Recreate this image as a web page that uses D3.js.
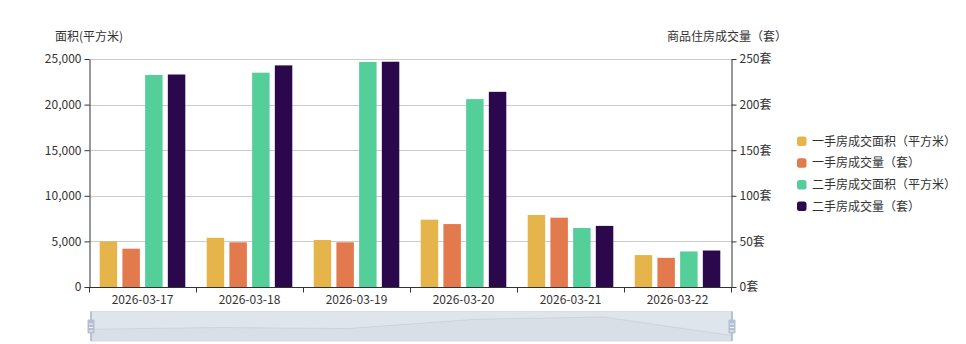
<!DOCTYPE html>
<html>
<head>
<meta charset="utf-8">
<script src="https://cdn.jsdelivr.net/npm/d3@7/dist/d3.min.js"></script>
<style>
  html, body { margin: 0; padding: 0; background: #fff; }
  svg { display: block; font-family: "Noto Sans CJK SC", "Microsoft YaHei", sans-serif; }
</style>
</head>
<body>
<svg id="chart" width="966" height="344"></svg>
<script>
// Daily housing transactions
const dates = ['2026-03-17', '2026-03-18', '2026-03-19', '2026-03-20', '2026-03-21', '2026-03-22'];
const newArea = [5000, 5400, 5150, 7380, 7900, 3500];        // 一手房成交面积 (m²)
const newCount = [42, 49, 49, 69, 76, 32];                   // 一手房成交量 (套)
const secondArea = [23250, 23500, 24670, 20600, 6470, 3900]; // 二手房成交面积 (m²)
const secondCount = [233, 243, 247, 214, 67, 40];            // 二手房成交量 (套)

const seriesNames = ['一手房成交面积（平方米）', '一手房成交量（套）', '二手房成交面积（平方米）', '二手房成交量（套）'];
const seriesColors = ['#e5b44a', '#e27a4d', '#55cf9a', '#2b074c'];
const leftTicks = [0, 5000, 10000, 15000, 20000, 25000];
const rightTicks = [0, 50, 100, 150, 200, 250];

const series = [
  { name: seriesNames[0], values: newArea, axis: 'left' },
  { name: seriesNames[1], values: newCount, axis: 'right' },
  { name: seriesNames[2], values: secondArea, axis: 'left' },
  { name: seriesNames[3], values: secondCount, axis: 'right' }
];

const svg = d3.select('#chart');
const plot = { left: 89, right: 731, top: 59, bottom: 287 };
const textColor = '#333';

const x = d3.scaleBand().domain(dates).range([plot.left, plot.right]).padding(0);
const bw = x.bandwidth();
const xs = d3.scaleBand().domain(d3.range(series.length))
  .range([bw * 0.1, bw * 0.9]).paddingInner(0.3 / 1.3).paddingOuter(0);
const yL = d3.scaleLinear().domain([0, 25000]).range([plot.bottom, plot.top]);
const yR = d3.scaleLinear().domain([0, 250]).range([plot.bottom, plot.top]);

// grid lines
svg.append('g').selectAll('line').data(leftTicks.slice(1)).join('line')
  .attr('x1', plot.left).attr('x2', plot.right)
  .attr('y1', d => Math.round(yL(d)) + 0.5).attr('y2', d => Math.round(yL(d)) + 0.5)
  .attr('stroke', '#ccc').attr('stroke-width', 1);

// bars
series.forEach((s, si) => {
  const y = s.axis === 'left' ? yL : yR;
  svg.append('g').selectAll('rect').data(s.values).join('rect')
    .attr('x', (d, i) => x(dates[i]) + xs(si))
    .attr('width', xs.bandwidth())
    .attr('y', d => y(d))
    .attr('height', d => plot.bottom - y(d))
    .attr('fill', seriesColors[si]);
});

function styleAxis(g) {
  g.select('.domain').attr('stroke', textColor);
  g.selectAll('.tick line').attr('stroke', textColor);
  g.selectAll('.tick text').attr('fill', textColor).attr('font-size', 12)
    .attr('font-family', '"Noto Sans CJK SC", "Microsoft YaHei", sans-serif');
}

// left axis
svg.append('g').attr('transform', `translate(${plot.left + 0.5},0)`)
  .call(d3.axisLeft(yL).tickValues(leftTicks).tickSize(5).tickSizeOuter(0).tickPadding(3)
    .tickFormat(d3.format(',')))
  .call(styleAxis);

// right axis
svg.append('g').attr('transform', `translate(${plot.right + 0.5},0)`)
  .call(d3.axisRight(yR).tickValues(rightTicks).tickSize(5).tickSizeOuter(0).tickPadding(3)
    .tickFormat(d => d + '套'))
  .call(styleAxis);

// bottom axis with ticks on band boundaries
const xAxisG = svg.append('g').attr('transform', `translate(0,${plot.bottom + 0.5})`);
xAxisG.append('line').attr('x1', plot.left).attr('x2', plot.right + 1)
  .attr('stroke', textColor);
xAxisG.selectAll('line.tk').data(d3.range(dates.length + 1)).join('line').attr('class', 'tk')
  .attr('x1', i => Math.round(plot.left + i * bw) + 0.5)
  .attr('x2', i => Math.round(plot.left + i * bw) + 0.5)
  .attr('y1', 0).attr('y2', 5).attr('stroke', textColor);
xAxisG.selectAll('text').data(dates).join('text')
  .attr('x', d => x(d) + bw / 2).attr('y', 16)
  .attr('text-anchor', 'middle').attr('font-size', 12).attr('fill', textColor)
  .text(d => d);

// axis names
svg.append('text').attr('x', plot.left).attr('y', 41).attr('text-anchor', 'middle')
  .attr('font-size', 12).attr('fill', textColor).text('面积(平方米)');
svg.append('text').attr('x', plot.right - 4).attr('y', 41).attr('text-anchor', 'middle')
  .attr('font-size', 12).attr('fill', textColor).text('商品住房成交量（套）');

// legend
const legend = svg.append('g').attr('transform', 'translate(797,141)');
const li = legend.selectAll('g').data(seriesNames).join('g')
  .attr('transform', (d, i) => `translate(0,${i * 21.7})`);
li.append('rect').attr('x', 0).attr('y', -4.5).attr('width', 9.5).attr('height', 9.5)
  .attr('rx', 2.5).attr('fill', (d, i) => seriesColors[i]);
li.append('text').attr('x', 15).attr('y', 4.5).attr('font-size', 12).attr('fill', textColor)
  .text(d => d);

// range slider with data shadow of the first series
const sl = { left: 91, right: 732, top: 311.5, bottom: 341 };
const slider = svg.append('g');
slider.append('rect').attr('x', sl.left).attr('y', sl.top)
  .attr('width', sl.right - sl.left).attr('height', sl.bottom - sl.top)
  .attr('fill', 'rgba(167,183,204,0.36)').attr('stroke', '#ddd');

const ext = d3.extent(newArea);
const off = (ext[1] - ext[0]) * 0.3;
const shadowY = d3.scaleLinear().domain([ext[0] - off, ext[1] + off]).range([sl.bottom, sl.top]);
const shadowX = d3.scaleLinear().domain([0, newArea.length - 1]).range([sl.left, sl.right]);
const area = d3.area().x((d, i) => shadowX(i)).y0(sl.bottom).y1(d => shadowY(d));
const line = d3.line().x((d, i) => shadowX(i)).y(d => shadowY(d));
slider.append('path').attr('d', area(newArea)).attr('fill', 'rgba(47,69,84,0.04)');
slider.append('path').attr('d', line(newArea)).attr('fill', 'none')
  .attr('stroke', 'rgba(47,69,84,0.15)').attr('stroke-width', 0.6);

[sl.left, sl.right].forEach(hx => {
  const h = slider.append('g');
  h.append('line').attr('x1', hx).attr('x2', hx).attr('y1', sl.top).attr('y2', sl.bottom)
    .attr('stroke', '#a7b7cc').attr('stroke-width', 1.5);
  h.append('rect').attr('x', hx - 3.5).attr('y', 319.5).attr('width', 7).attr('height', 14)
    .attr('rx', 1).attr('fill', '#b3c0d3');
  [324, 327.5, 331].forEach(ly => h.append('line')
    .attr('x1', hx - 2).attr('x2', hx + 2).attr('y1', ly).attr('y2', ly)
    .attr('stroke', '#fff').attr('stroke-width', 0.8));
});
</script>
</body>
</html>
